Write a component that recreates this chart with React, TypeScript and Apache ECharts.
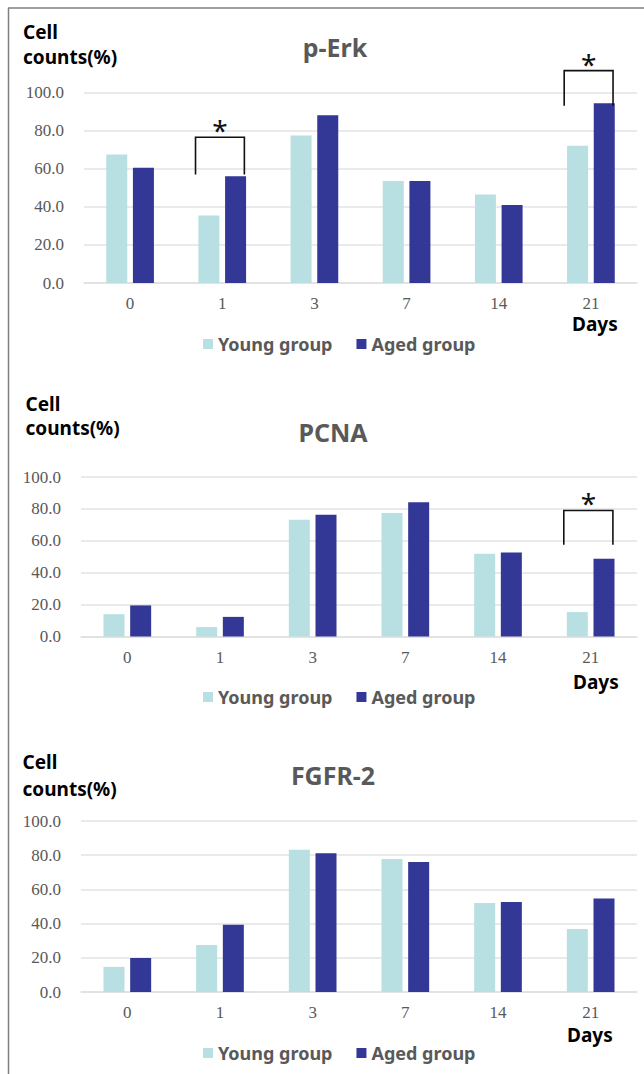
import React, { useEffect, useRef } from 'react';
import * as echarts from 'echarts';

const days = ['0', '1', '3', '7', '14', '21'];
const seriesNames = ['Young group', 'Aged group'];
const titles = ['p-Erk', 'PCNA', 'FGFR-2'];

const pErkYoung = [67.4, 35.4, 77.4, 53.5, 46.4, 72.0];
const pErkAged = [60.5, 56.0, 88.0, 53.5, 41.0, 94.4];
const pcnaYoung = [14.0, 5.9, 73.2, 77.4, 51.9, 15.3];
const pcnaAged = [19.5, 12.3, 76.4, 84.1, 52.7, 48.7];
const fgfrYoung = [14.7, 27.5, 83.2, 77.8, 52.0, 36.9];
const fgfrAged = [19.9, 39.3, 81.2, 76.0, 52.6, 54.7];

// [category index, bracket top value, left leg bottom value, right leg bottom value]
const pErkBrackets = [[1, 76.5, 57, 57], [5, 111.5, 93, 93]];
const pcnaBrackets = [[5, 79, 57.5, 57.5]];
const fgfrBrackets: number[][] = [];

const YOUNG = '#b8dfe1';
const AGED = '#333795';
const GRAY = '#595959';
const SANS = '"Noto Sans", "Open Sans", sans-serif';
const SERIF = '"Liberation Serif", "DejaVu Serif", serif';

const panels = [
  { title: titles[0], young: pErkYoung, aged: pErkAged, brackets: pErkBrackets,
    gl: 84, gw: 553, gt: 92.5, gh: 190.5, tx: 335, ty: 46.5, cx: 23, cy: 31.5, cy2: 57,
    dx: 572, dy: 324, ly: 344 },
  { title: titles[1], young: pcnaYoung, aged: pcnaAged, brackets: pcnaBrackets,
    gl: 81, gw: 556, gt: 477, gh: 159.5, tx: 333, ty: 432, cx: 25.5, cy: 403.5, cy2: 428,
    dx: 573, dy: 682, ly: 697 },
  { title: titles[2], young: fgfrYoung, aged: fgfrAged, brackets: fgfrBrackets,
    gl: 81, gw: 556, gt: 821, gh: 171, tx: 333, ty: 775, cx: 22.5, cy: 762, cy2: 789,
    dx: 567, dy: 1035, ly: 1053 },
];

function bracketRender(params: any, api: any) {
  const c = api.value(0);
  const top = api.coord([c, api.value(1)]);
  const yl = api.coord([c, api.value(2)])[1];
  const yr = api.coord([c, api.value(3)])[1];
  const band = api.size([1, 0])[0];
  const xl = top[0] - band * 0.29;
  const xr = top[0] + band * 0.24;
  return {
    type: 'group',
    children: [
      {
        type: 'polyline',
        shape: { points: [[xl, yl], [xl, top[1]], [xr, top[1]], [xr, yr]] },
        style: { stroke: '#111', lineWidth: 1.6, fill: null },
      },
      {
        type: 'text',
        x: (xl + xr) / 2,
        y: top[1] - 7,
        style: { text: '*', fontSize: 28, fontFamily: SANS, fill: '#111', align: 'center', verticalAlign: 'middle' },
      },
    ],
  };
}

export default function App() {
  const ref = useRef<HTMLDivElement>(null);
  useEffect(() => {
    if (!ref.current) return;
    const chart = echarts.init(ref.current, undefined, { renderer: 'svg' });
    const grid: any[] = [];
    const xAxis: any[] = [];
    const yAxis: any[] = [];
    const series: any[] = [];
    const legend: any[] = [];
    const graphic: any[] = [
      { type: 'line', shape: { x1: 8.5, y1: 8, x2: 8.5, y2: 1074 }, style: { stroke: '#808080', lineWidth: 1.5 } },
      { type: 'line', shape: { x1: 8, y1: 8, x2: 644, y2: 8 }, style: { stroke: '#808080', lineWidth: 1.5 } },
    ];
    panels.forEach((p, i) => {
      grid.push({ left: p.gl, top: p.gt, width: p.gw, height: p.gh, containLabel: false });
      xAxis.push({
        type: 'category', gridIndex: i, data: days,
        axisTick: { show: false },
        axisLine: { lineStyle: { color: '#e0e0e0', width: 1.5 } },
        axisLabel: { margin: 12, fontSize: 17, fontFamily: SERIF, color: GRAY },
      });
      yAxis.push({
        type: 'value', gridIndex: i, min: 0, max: 100, interval: 20,
        axisLine: { show: false }, axisTick: { show: false },
        splitLine: { lineStyle: { color: '#e3e3e3', width: 1.5 } },
        axisLabel: { margin: 20, fontSize: 17, fontFamily: SERIF, color: GRAY, formatter: (v: number) => v.toFixed(1) },
      });
      series.push({
        name: seriesNames[0], type: 'bar', xAxisIndex: i, yAxisIndex: i, data: p.young,
        barWidth: 21, barGap: '27%', itemStyle: { color: YOUNG },
      });
      series.push({
        name: seriesNames[1], type: 'bar', xAxisIndex: i, yAxisIndex: i, data: p.aged,
        barWidth: 21, barGap: '27%', itemStyle: { color: AGED },
      });
      if (p.brackets.length) {
        series.push({
          name: 'sig' + i, type: 'custom', xAxisIndex: i, yAxisIndex: i, data: p.brackets,
          renderItem: bracketRender, clip: false, z: 10, silent: true,
          encode: { x: 0, y: 1 },
        });
      }
      legend.push({
        data: seriesNames, left: 203, top: p.ly - 9, padding: 0,
        itemWidth: 10, itemHeight: 10, itemGap: 24, icon: 'rect',
        textStyle: { fontSize: 18, fontWeight: 'bold', fontFamily: SANS, color: GRAY },
      });
      graphic.push(
        { type: 'text', x: p.tx, y: p.ty, style: { text: p.title, fontSize: 25, fontWeight: 'bold', fontFamily: SANS, fill: GRAY, align: 'center', verticalAlign: 'middle' } },
        { type: 'text', x: p.cx, y: p.cy, style: { text: 'Cell', fontSize: 19, fontWeight: 'bold', fontFamily: SANS, fill: '#000', align: 'left', verticalAlign: 'middle' } },
        { type: 'text', x: p.cx, y: p.cy2, style: { text: 'counts(%)', fontSize: 19, fontWeight: 'bold', fontFamily: SANS, fill: '#000', align: 'left', verticalAlign: 'middle' } },
        { type: 'text', x: p.dx, y: p.dy, style: { text: 'Days', fontSize: 19, fontWeight: 'bold', fontFamily: SANS, fill: '#000', align: 'left', verticalAlign: 'middle' } },
      );
    });
    chart.setOption({
      animation: false,
      backgroundColor: '#fff',
      grid, xAxis, yAxis, series, legend, graphic,
    });
    return () => chart.dispose();
  }, []);
  return <div ref={ref} style={{ position: 'fixed', left: 0, top: 0, width: 644, height: 1074 }} />;
}
